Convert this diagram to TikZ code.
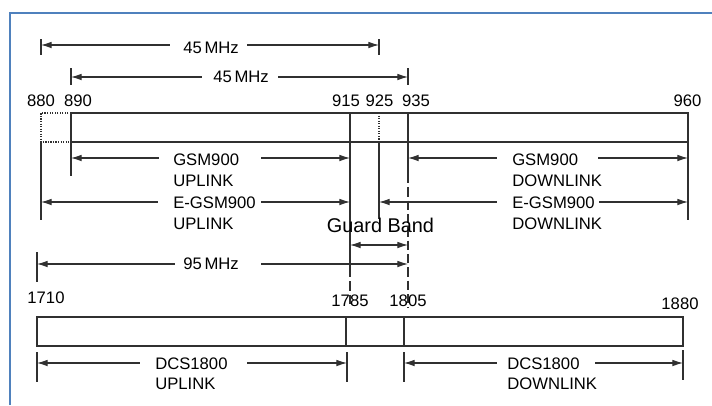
\documentclass[tikz,border=0pt]{standalone}
\usepackage{fontspec}
\setmainfont{Liberation Sans}
\usetikzlibrary{arrows.meta, positioning, calc}
\definecolor{framebl}{HTML}{4F81BD}
\definecolor{linegray}{HTML}{303030}

\tikzset{
  dimarrow/.style={{Latex[length=8pt,width=5pt]}-{Latex[length=8pt,width=5pt]}, line width=0.8pt, draw=linegray},
  tickline/.style={line width=0.8pt, draw=linegray},
  bandbox/.style={line width=0.9pt, draw=linegray},
  longdash/.style={dash pattern=on 7pt off 3pt},
  freq/.style={font=\fontsize{12.5}{15}\selectfont, inner sep=0pt, anchor=base},
  lbl/.style={font=\fontsize{12.5}{15}\selectfont, inner sep=0pt, anchor=base west},
  gaplbl/.style={lbl, fill=white, inner ysep=2pt, align=left, text width=#1},
}

\begin{document}
\begin{tikzpicture}[x=0.75pt, y=-0.75pt]
    \useasboundingbox (0,0) rectangle (712,405);
    % frame
    \draw[framebl, line width=1.5pt] (9.5,405) -- (9.5,12.5) -- (712,12.5);

    % arrow end points
    \coordinate (t880) at (41,45);   \coordinate (t925) at (379,45);
    \coordinate (t890) at (71,77);   \coordinate (t935) at (408,77);
    \coordinate (ul890) at (71,158); \coordinate (ul915) at (350,158);
    \coordinate (dl935) at (408,158); \coordinate (dl960) at (688,158);
    \coordinate (eul880) at (41,202); \coordinate (eul915) at (350,202);
    \coordinate (edl925) at (379,202); \coordinate (edl960) at (688,202);
    \coordinate (gb1) at (350,245);  \coordinate (gb2) at (408,245);
    \coordinate (d1710) at (37,264); \coordinate (d1805) at (408,264);
    \coordinate (dul1710) at (37,363); \coordinate (dul1785) at (347,363);
    \coordinate (ddl1805) at (404,363); \coordinate (ddl1880) at (683,363);

    % ticks above the band
    \draw[tickline] (41,39) -- (41,55);
    \draw[tickline] (379,39) -- (379,55);
    \draw[tickline] (71,68) -- (71,85);
    \draw[tickline] (408,68) -- (408,85);

    % GSM900 band
    \draw[bandbox] (71,113) rectangle (688,142);
    \draw[bandbox, densely dotted] (71,113) -- (41,113) -- (41,142) -- (71,142);
    \draw[bandbox] (350,113) -- (350,142);
    \draw[bandbox, densely dotted] (379,113) -- (379,142);
    \draw[bandbox] (408,113) -- (408,142);

    % ticks below the band
    \draw[tickline] (71,142) -- (71,176);
    \draw[tickline] (41,142) -- (41,220);
    \draw[tickline] (350,142) -- (350,268);
    \draw[tickline, longdash] (350,268) -- (350,308);
    \draw[tickline] (379,142) -- (379,219);
    \draw[tickline] (408,142) -- (408,174);
    \draw[tickline, longdash] (408,174) -- (408,308);
    \draw[tickline] (688,142) -- (688,220);
    \draw[tickline] (37,252) -- (37,282);

    % DCS1800 band
    \draw[bandbox] (37,317) rectangle (683,346);
    \draw[bandbox] (346,317) -- (346,346);
    \draw[bandbox] (404,317) -- (404,346);
    \draw[tickline] (37,352) -- (37,382);
    \draw[tickline] (347,352) -- (347,382);
    \draw[tickline] (404,352) -- (404,382);
    \draw[tickline] (683,350) -- (683,380);

    % dimension arrows
    \draw[dimarrow] (t880) -- (t925);
    \draw[dimarrow] (t890) -- (t935);
    \draw[dimarrow] (ul890) -- (ul915);
    \draw[dimarrow] (dl935) -- (dl960);
    \draw[dimarrow] (eul880) -- (eul915);
    \draw[dimarrow] (edl925) -- (edl960);
    \draw[dimarrow] (gb1) -- (gb2);
    \draw[dimarrow] (d1710) -- (d1805);
    \draw[dimarrow] (dul1710) -- (dul1785);
    \draw[dimarrow] (ddl1805) -- (ddl1880);

    % frequencies
    \node[freq] (f880) at (41,106) {880};
    \node[freq] (f890) at (78,106) {890};
    \node[freq] (f915) at (346,106) {915};
    \node[freq] (f925) at (379.5,106) {925};
    \node[freq] (f935) at (416,106) {935};
    \node[freq] (f960) at (687.5,106) {960};
    \node[freq] (f1710) at (46,303) {1710};
    \node[freq] (f1785) at (350,306) {1785};
    \node[freq] (f1805) at (408,306) {1805};
    \node[freq] (f1880) at (680,309) {1880};

    % labels on the arrows
    \node[gaplbl=57.75pt] (dup1) at (170,53) {\hspace*{9.75pt}45\,MHz};
    \node[gaplbl=57pt] (dup2) at (202,82) {\hspace*{8.25pt}45\,MHz};
    \node[gaplbl=76.5pt] (gsmul) at (159,165) {\hspace*{10.5pt}GSM900};
    \node[lbl] (gsmul2) at (173,186) {UPLINK};
    \node[gaplbl=75.75pt] (gsmdl) at (497,165) {\hspace*{11.25pt}GSM900};
    \node[lbl] (gsmdl2) at (512,186) {DOWNLINK};
    \node[gaplbl=77.25pt] (egsmul) at (158,208) {\hspace*{11.25pt}E-GSM900};
    \node[lbl] (egsmul2) at (173,229) {UPLINK};
    \node[gaplbl=76.5pt] (egsmdl) at (497,208) {\hspace*{11.25pt}E-GSM900};
    \node[lbl] (egsmdl2) at (512,229) {DOWNLINK};
    \node[font=\fontsize{14.9}{18}\selectfont, inner sep=0pt, anchor=base] (guard) at (380.5,232) {Guard Band};
    \node[gaplbl=64.5pt] (dup3) at (175,269) {\hspace*{6pt}95\,MHz};
    \node[gaplbl=80.25pt] (dcsul) at (140,369) {\hspace*{11.25pt}DCS1800};
    \node[lbl] (dcsul2) at (155,389) {UPLINK};
    \node[gaplbl=73.5pt] (dcsdl) at (497,369) {\hspace*{7.5pt}DCS1800};
    \node[lbl] (dcsdl2) at (507,389) {DOWNLINK};
\end{tikzpicture}
\end{document}
